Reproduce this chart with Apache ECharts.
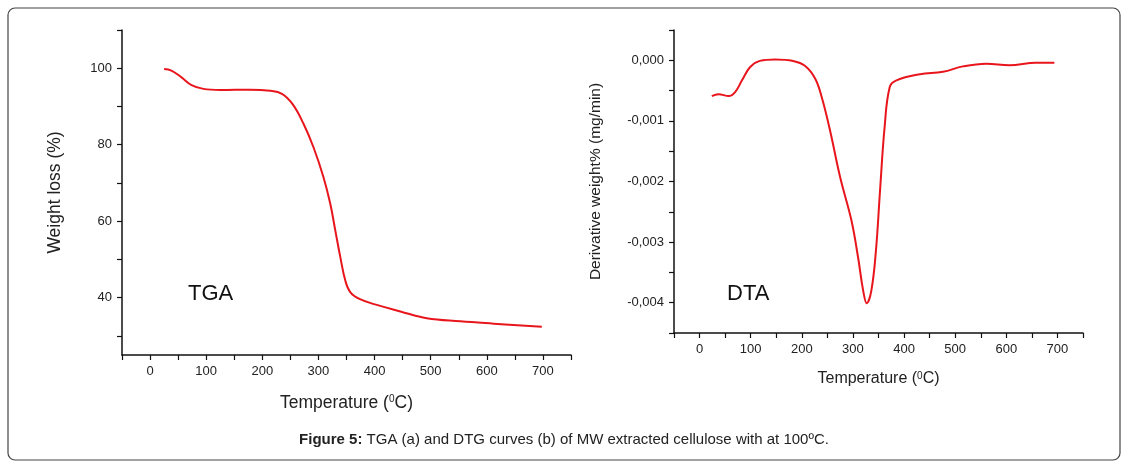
<!DOCTYPE html>
<html>
<head>
<meta charset="utf-8">
<script src="https://cdn.jsdelivr.net/npm/echarts@6/dist/echarts.min.js"></script>
<style>
  html, body { margin: 0; padding: 0; background: #fff; }
  #main { width: 1128px; height: 468px; }
</style>
</head>
<body>
<div id="main"></div>
<script>
// TGA curve (weight %)
const tgaTemp = [25, 38, 56, 74, 95, 125, 178, 214, 235, 254, 273, 291, 309, 321, 330, 339, 348, 357, 374, 404, 446, 493, 553, 612, 698];
const tgaWeight = [99.8, 99.4, 97.6, 95.6, 94.6, 94.3, 94.4, 94.1, 93.3, 90.6, 85.6, 79.4, 71.5, 64.6, 57.6, 50.6, 44.4, 41.4, 39.6, 38.1, 36.4, 34.6, 33.8, 33.2, 32.4];

// DTA / DTG curve (mg/min)
const dtaTemp = [24, 37, 57, 70, 83, 99, 118, 148, 183, 206, 226, 239, 255, 275, 297, 310, 320, 327, 336, 345, 353, 362, 372, 385, 431, 476, 515, 561, 606, 658, 694];
const dtaDeriv = [-0.00059, -0.00056, -0.00059, -0.00052, -0.00033, -0.00011, -0.00001, 0.000015, -0.00001, -0.00009, -0.0003, -0.00061, -0.00115, -0.00193, -0.00264, -0.00325, -0.0038, -0.00401, -0.0038, -0.00314, -0.00215, -0.0011, -0.00044, -0.00033, -0.00023, -0.00019, -0.0001, -0.000055, -0.00008, -0.00004, -0.00004];

const tgaYLabels = [40, 60, 80, 100];
const tgaYTicks = [30, 40, 50, 60, 70, 80, 90, 100, 110];

const FONT = 'Liberation Sans, Arial, sans-serif';
const RED = '#e8161c';

function pair(xs, ys) {
  return xs.map((x, i) => [x, ys[i]]);
}

const axisLineStyle = { show: true, onZero: false, lineStyle: { color: '#111', width: 1.5 } };
const tickStyle = { show: true, inside: false, length: 5, lineStyle: { color: '#111', width: 1.2 } };
const labelStyle = { color: '#222', fontSize: 13, fontFamily: FONT };
const supRich = {
  sup: { fontSize: 10, fontFamily: FONT, color: '#222', verticalAlign: 'top', padding: [0, 0, 6, 0] }
};

function tempAxis(gridIndex, fontSize, gap) {
  return {
    type: 'value', gridIndex: gridIndex,
    min: -50, max: 750, interval: 50,
    name: 'Temperature ({sup|0}C)', nameLocation: 'middle', nameGap: gap,
    nameTextStyle: { fontSize: fontSize, fontFamily: FONT, color: '#222', rich: supRich },
    axisLine: axisLineStyle, axisTick: tickStyle,
    axisLabel: Object.assign({}, labelStyle, {
      margin: 10,
      formatter: v => (v >= 0 && v % 100 === 0) ? String(v) : ''
    }),
    splitLine: { show: false }
  };
}

const chart = echarts.init(document.getElementById('main'));
chart.setOption({
  animation: false,
  backgroundColor: '#fff',
  title: {
    text: '{b|Figure 5:} TGA (a) and DTG curves (b) of MW extracted cellulose with at 100ºC.',
    left: 'center', top: 427,
    textStyle: {
      fontSize: 15, fontWeight: 'normal', fontFamily: FONT, color: '#222',
      rich: { b: { fontSize: 15, fontWeight: 'bold', fontFamily: FONT, color: '#222' } }
    }
  },
  graphic: [
    { type: 'rect', shape: { x: 8, y: 8, width: 1112, height: 452, r: 7 },
      style: { fill: 'none', stroke: '#444', lineWidth: 1.2 }, silent: true },
    { type: 'text', left: 188, top: 283, style: { text: 'TGA', fontSize: 22, fontFamily: FONT, fill: '#111' } },
    { type: 'text', left: 727, top: 283, style: { text: 'DTA', fontSize: 22, fontFamily: FONT, fill: '#111' } }
  ],
  grid: [
    { left: 122, top: 30, width: 449, height: 325 },
    { left: 674, top: 30, width: 409, height: 303 }
  ],
  xAxis: [
    tempAxis(0, 17.5, 39),
    tempAxis(1, 16, 38)
  ],
  yAxis: [
    {
      type: 'value', gridIndex: 0, min: 25, max: 110,
      name: 'Weight loss (%)', nameLocation: 'middle', nameGap: 58,
      nameTextStyle: { fontSize: 17.5, fontFamily: FONT, color: '#222' },
      axisLine: axisLineStyle,
      axisTick: Object.assign({}, tickStyle, { customValues: tgaYTicks }),
      axisLabel: Object.assign({}, labelStyle, { margin: 10, customValues: tgaYLabels }),
      splitLine: { show: false }
    },
    {
      type: 'value', gridIndex: 1, min: -0.0045, max: 0.0005, interval: 0.0005,
      name: 'Derivative weight% (mg/min)', nameLocation: 'middle', nameGap: 70,
      nameTextStyle: { fontSize: 15.5, fontFamily: FONT, color: '#222' },
      axisLine: axisLineStyle, axisTick: tickStyle,
      axisLabel: Object.assign({}, labelStyle, {
        margin: 10,
        formatter: v => {
          const k = Math.round(v * 10000);
          if (k % 10 !== 0 || k > 0) return '';
          return (k / 10000).toFixed(3).replace('.', ',');
        }
      }),
      splitLine: { show: false }
    }
  ],
  series: [
    {
      type: 'line', xAxisIndex: 0, yAxisIndex: 0,
      data: pair(tgaTemp, tgaWeight),
      smooth: 0.4, showSymbol: false,
      lineStyle: { color: RED, width: 2 }
    },
    {
      type: 'line', xAxisIndex: 1, yAxisIndex: 1,
      data: pair(dtaTemp, dtaDeriv),
      smooth: 0.4, showSymbol: false,
      lineStyle: { color: RED, width: 2 }
    }
  ]
});
</script>
</body>
</html>
